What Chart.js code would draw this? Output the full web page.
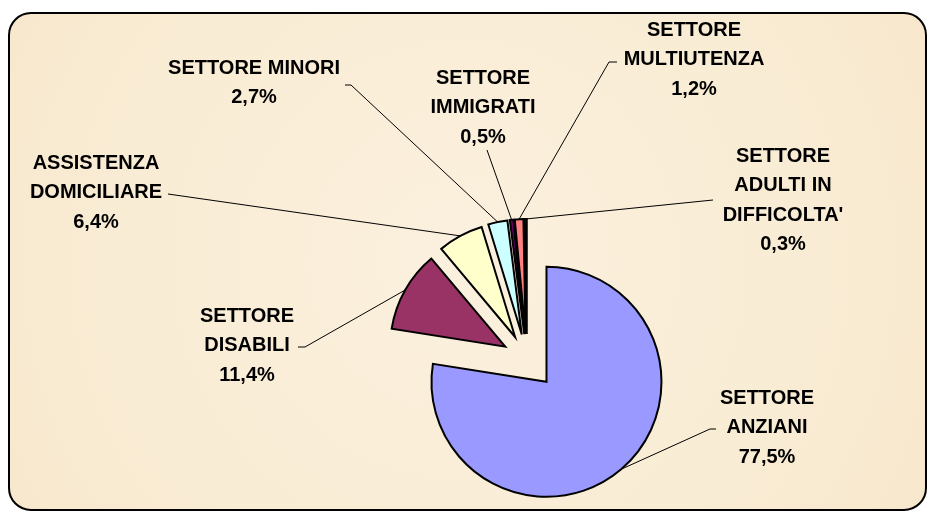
<!DOCTYPE html>
<html>
<head>
<meta charset="utf-8">
<script src="https://cdn.jsdelivr.net/npm/chart.js@4"></script>
<style>
  html, body { margin: 0; padding: 0; background: #fff; }
</style>
</head>
<body>
<canvas id="pieChart" width="928" height="512"></canvas>
<script>
// settori in senso orario dalle ore 12
const sectors = ['SETTORE ANZIANI', 'SETTORE DISABILI', 'ASSISTENZA DOMICILIARE', 'SETTORE MINORI', 'SETTORE IMMIGRATI', 'SETTORE MULTIUTENZA', "SETTORE ADULTI IN DIFFICOLTA'"];
const shares = [77.5, 11.4, 6.4, 2.7, 0.5, 1.2, 0.3];
const colors = ['#9999FF', '#993366', '#FFFFCC', '#CCFFFF', '#660066', '#FF8080', '#0066CC'];
const labelLines = [['SETTORE', 'ANZIANI'], ['SETTORE', 'DISABILI'], ['ASSISTENZA', 'DOMICILIARE'], ['SETTORE MINORI'], ['SETTORE', 'IMMIGRATI'], ['SETTORE', 'MULTIUTENZA'], ['SETTORE', 'ADULTI IN', "DIFFICOLTA'"]];

// layout: esplosione fette, posizione etichette, attacco linee guida
const explode = [30, 25, 25, 25, 25, 25, 25];
const labelAt = [[767, 398], [247, 316], [96, 163], [254, 68], [483, 78], [694, 30], [783, 156]];
const leaderFrom = [[[716, 429], [710, 429]], [[298, 347], [305, 347]], [[168, 194]], [[345, 85], [351, 85]], [[487, 150]], [[617, 62], [609, 62]], [[713, 200]]];
const LINE_H = 29.5;
const FONT = 'bold 20px "Liberation Sans", Arial, sans-serif';

const fmt = v => v.toFixed(1).replace('.', ',') + '%';

// 📌 sfondo pergamena con bordo arrotondato
const backgroundPlugin = {
    id: 'pergamena',
    beforeDraw(chart) {
        const ctx = chart.ctx;
        ctx.save();
        ctx.fillStyle = '#fff';
        ctx.fillRect(0, 0, chart.width, chart.height);
        const x = 9, y = 13, w = 917, h = 497, r = 22;
        const g = ctx.createRadialGradient(460, 260, 40, 460, 260, 560);
        g.addColorStop(0, '#FBF0DD');
        g.addColorStop(0.6, '#F9ECD4');
        g.addColorStop(1, '#F7E7CB');
        ctx.beginPath();
        ctx.roundRect(x, y, w, h, r);
        ctx.fillStyle = g;
        ctx.fill();
        ctx.lineWidth = 2;
        ctx.strokeStyle = '#000';
        ctx.stroke();
        ctx.restore();
    }
};

// 📌 fette esplose: sposta ogni arco lungo il suo angolo medio
const explodePlugin = {
    id: 'esplodi',
    afterDatasetUpdate(chart, args) {
        args.meta.data.forEach((arc, i) => {
            const mid = (arc.startAngle + arc.endAngle) / 2;
            arc.x += Math.cos(mid) * explode[i];
            arc.y += Math.sin(mid) * explode[i];
        });
    }
};

// 📌 etichette con linee guida
const labelPlugin = {
    id: 'etichette',
    afterDatasetsDraw(chart) {
        const ctx = chart.ctx;
        const arcs = chart.getDatasetMeta(0).data;
        ctx.save();
        ctx.strokeStyle = '#000';
        ctx.lineWidth = 1;
        arcs.forEach((arc, i) => {
            const mid = (arc.startAngle + arc.endAngle) / 2;
            const ex = arc.x + Math.cos(mid) * arc.outerRadius;
            const ey = arc.y + Math.sin(mid) * arc.outerRadius;
            const pts = leaderFrom[i];
            ctx.beginPath();
            ctx.moveTo(pts[0][0], pts[0][1]);
            pts.slice(1).forEach(p => ctx.lineTo(p[0], p[1]));
            ctx.lineTo(ex, ey);
            ctx.stroke();
        });
        ctx.font = FONT;
        ctx.fillStyle = '#000';
        ctx.textAlign = 'center';
        ctx.textBaseline = 'middle';
        arcs.forEach((arc, i) => {
            const [x, y] = labelAt[i];
            const lines = labelLines[i].concat(fmt(shares[i]));
            lines.forEach((t, k) => ctx.fillText(t, x, y + k * LINE_H));
        });
        ctx.restore();
    }
};

new Chart(document.getElementById('pieChart'), {
    type: 'pie',
    data: {
        labels: sectors,
        datasets: [{ data: shares, backgroundColor: colors, borderColor: '#000', borderWidth: 2, borderJoinStyle: 'miter' }]
    },
    options: {
        responsive: false,
        animation: false,
        events: [],
        radius: 115,
        layout: { padding: { left: 126, top: 206, right: 0, bottom: 0 } },
        plugins: { legend: { display: false }, tooltip: { enabled: false } }
    },
    plugins: [backgroundPlugin, explodePlugin, labelPlugin]
});
</script>
</body>
</html>
